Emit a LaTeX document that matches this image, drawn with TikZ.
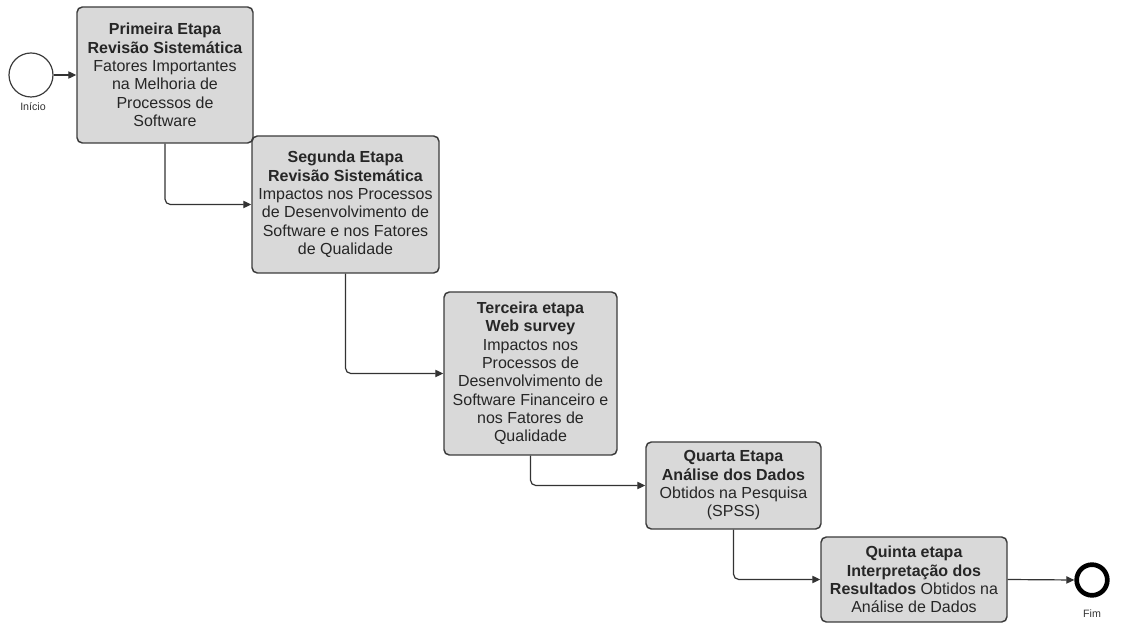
\documentclass[tikz,border=0pt]{standalone}
\usepackage{fontspec}
\setmainfont{Liberation Sans}
\usepackage{xcolor}
\definecolor{caixa}{HTML}{D9D9D9}
\definecolor{borda}{HTML}{3C3C3C}
\usepackage{tikz}
\usetikzlibrary{arrows.meta,positioning}

\begin{document}
\begin{tikzpicture}[
  x=0.75pt,
  y=-0.75pt,
  etapa/.style={rectangle, rounded corners=4pt, draw=borda, fill=caixa, line width=1.1pt, inner sep=0pt, align=center, text=black!85, font=\fontsize{12pt}{13.75pt}\selectfont},
  evento/.style={circle, draw=borda, inner sep=0pt},
  rotulo/.style={text=black!80, font=\fontsize{8pt}{9pt}\selectfont},
  fluxo/.style={draw=black!80, line width=0.9pt, rounded corners=4pt, -{Triangle[length=6pt,width=5.5pt]}},
]
\useasboundingbox (0,0) rectangle (1122,623);

% Start and end events
\node[evento, minimum size=33pt, line width=0.9pt] (ini) at (31,75) {};
\node[rotulo] (iniRot) at (33,107) {Início};
\node[evento, minimum size=23pt, line width=3.5pt, draw=black] (fim) at (1092,580) {};
\node[rotulo] (fimRot) at (1092,614) {Fim};

% Steps
\node[etapa, minimum width=132pt, minimum height=102pt] (e1) at (165,75)
  {\textbf{Primeira Etapa}\\ \textbf{Revisão Sistemática}\\ Fatores Importantes\\ na Melhoria de\\ Processos de\\ Software};
\node[etapa, minimum width=140.25pt, minimum height=102.75pt] (e2) at (345.5,204.5)
  {\textbf{Segunda Etapa}\\ \textbf{Revisão Sistemática}\\ Impactos nos Processos\\ de Desenvolvimento de\\ Software e nos Fatores\\ de Qualidade};
\node[etapa, minimum width=129.75pt, minimum height=122.25pt] (e3) at (530.5,373.5)
  {\textbf{Terceira etapa}\\ \textbf{Web survey}\\ Impactos nos\\ Processos de\\ Desenvolvimento de\\ Software Financeiro e\\ nos Fatores de\\ Qualidade};
\node[etapa, minimum width=131.25pt, minimum height=65.25pt] (e4) at (733.5,485.5)
  {\textbf{Quarta Etapa}\\ \textbf{Análise dos Dados}\\ Obtidos na Pesquisa\\ (SPSS)};
\node[etapa, minimum width=139.5pt, minimum height=63.75pt] (e5) at (914,579.5)
  {\textbf{Quinta etapa}\\ \textbf{Interpretação dos}\\ \textbf{Resultados} Obtidos na\\ Análise de Dados};

% Flow
\draw[fluxo] (ini) -- (e1);
\draw[fluxo] (e1.south) |- (e2.west);
\draw[fluxo] (e2.south) |- (e3.west);
\draw[fluxo] (e3.south) |- (e4.west);
\draw[fluxo] (e4.south) |- (e5.west);
\draw[fluxo] (e5.east) -- (fim.west);

\end{tikzpicture}
\end{document}
